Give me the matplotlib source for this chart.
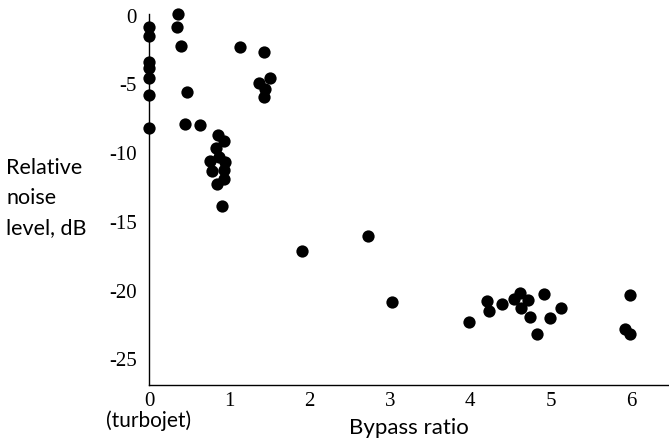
import matplotlib
matplotlib.use("Agg")
import matplotlib.pyplot as plt
from matplotlib.transforms import blended_transform_factory

plt.rcParams['axes.unicode_minus'] = False

# Bypass ratio (x) and relative noise level in dB (y)
bypass = [0, 0, 0, 0, 0, 0, 0,
          0.36, 0.345, 0.395, 0.477, 0.444, 0.635,
          0.86, 0.934, 0.834, 0.76, 0.868, 0.95, 0.79, 0.934, 0.934, 0.85, 0.91,
          1.13, 1.436, 1.507, 1.366, 1.45, 1.43,
          1.91, 2.73, 3.02,
          3.99, 4.21, 4.23, 4.40, 4.54, 4.62, 4.72, 4.63, 4.74, 4.83, 4.92, 4.99, 5.13,
          5.99, 5.93, 5.99]
noise = [-0.85, -1.5, -3.4, -3.8, -4.5, -5.8, -8.2,
         0.15, -0.85, -2.24, -5.57, -7.9, -7.93,
         -8.7, -9.1, -9.66, -10.6, -10.3, -10.63, -11.3, -11.24, -11.9, -12.26, -13.85,
         -2.3, -2.65, -4.5, -4.9, -5.3, -5.94,
         -17.13, -16.06, -20.85,
         -22.26, -20.73, -21.48, -21.0, -20.58, -20.15, -20.66, -21.27, -21.95, -23.14, -20.24, -21.97, -21.27,
         -20.3, -22.77, -23.14]

xticks = [0, 1, 2, 3, 4, 5, 6]
yticks = [0, -5, -10, -15, -20, -25]

W, H = 669, 442
fig = plt.figure(figsize=(W / 100, H / 100), dpi=100)
left, right, top, bottom = 149, 669, 14, 385
ax = fig.add_axes([left / W, (H - bottom) / H, (right - left) / W, (bottom - top) / H])

ax.scatter(bypass, noise, s=78, color='black', zorder=3, clip_on=False, linewidths=0)

ax.set_xlim(0, 6.475)
ax.set_ylim(-26.86, 0.12)
ax.set_xticks(xticks)
ax.set_yticks(yticks)
ax.set_xticklabels([str(t) for t in xticks], family='Liberation Serif', fontsize=15)
ax.set_yticklabels([str(t) for t in yticks], family='Liberation Serif', fontsize=15)
ax.tick_params(axis='both', length=0)
ax.tick_params(axis='x', pad=5)
ax.tick_params(axis='y', pad=9)

for s in ['top', 'right']:
    ax.spines[s].set_visible(False)
for s in ['left', 'bottom']:
    ax.spines[s].set_linewidth(1.0)
    ax.spines[s].set_color('black')

ax.set_xlabel('Bypass ratio', family='Lato', fontsize=16)
ax.xaxis.set_label_coords(0.5, -43 / (bottom - top), transform=ax.transAxes)
ax.xaxis.label.set_va('center')

trans = blended_transform_factory(ax.transData, ax.transAxes)
ax.text(0, -36 / (bottom - top), '(turbojet)', transform=trans, ha='center', va='center',
        family='Lato', fontsize=15)

fig.text(6 / W, 1 - 198 / H, 'Relative\nnoise\nlevel, dB', ha='left', va='center',
         family='Lato', fontsize=15.5, linespacing=1.62)

fig.savefig('out.png', dpi=100)
